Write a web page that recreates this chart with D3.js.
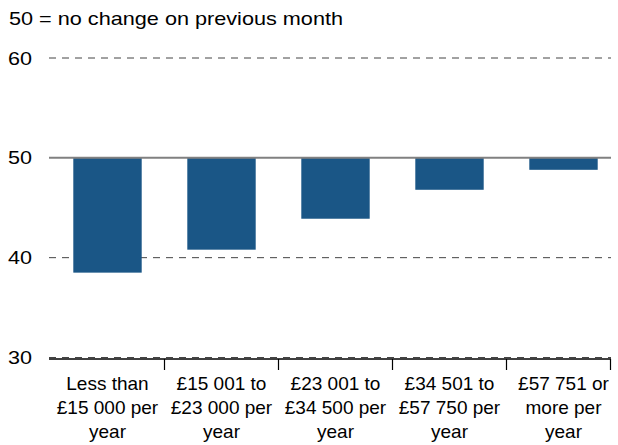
<!DOCTYPE html>
<html>
<head>
<meta charset="utf-8">
<script src="https://cdn.jsdelivr.net/npm/d3@7"></script>
<style>
  body { margin: 0; background: #fff; }
  text { font-family: "Liberation Sans", Arial, sans-serif; fill: #000; }
</style>
</head>
<body>
<svg id="chart"></svg>
<script>
var categories = [
    ["Less than", "£15 000 per", "year"],
    ["£15 001 to", "£23 000 per", "year"],
    ["£23 001 to", "£34 500 per", "year"],
    ["£34 501 to", "£57 750 per", "year"],
    ["£57 751 or", "more per", "year"]
]
var values = [38.5, 40.8, 43.9, 46.8, 48.8]
var yTicks = [30, 40, 50, 60]
var note = "50 = no change on previous month"

function main(){
    var svgWidth = 618, svgHeight = 445
    var left = 49, right = 611, top = 58, bottom = 357.5

    var svg = d3.select('#chart')
        .attr('width', svgWidth)
        .attr('height', svgHeight)

    var xScale = d3.scaleBand()
        .domain(d3.range(categories.length))
        .range([50.5, 620.5])
        .paddingInner(0.4)
        .paddingOuter(0.2)

    var yScale = d3.scaleLinear()
        .domain([30, 60])
        .range([bottom, top])

    // note at top
    svg.append("text")
        .attr("x", 9)
        .attr("y", 25)
        .attr("font-size", "19px")
        .attr("textLength", 334)
        .attr("lengthAdjust", "spacingAndGlyphs")
        .text(note)

    // dashed gridlines
    svg.selectAll("line.grid")
        .data(yTicks.filter(function(d){ return d != 50 }))
        .enter()
        .append("line")
        .attr("class", "grid")
        .attr("x1", left)
        .attr("x2", right)
        .attr("y1", function(d){ return yScale(d) })
        .attr("y2", function(d){ return yScale(d) })
        .attr("stroke", "#444")
        .attr("stroke-width", 1)
        .attr("stroke-dasharray", "7,6")

    // y labels
    svg.selectAll("text.ylab")
        .data(yTicks)
        .enter()
        .append("text")
        .attr("class", "ylab")
        .attr("x", 8)
        .attr("y", function(d){ return yScale(d) + 6.5 })
        .attr("font-size", "19px")
        .attr("textLength", 24)
        .attr("lengthAdjust", "spacingAndGlyphs")
        .text(function(d){ return d })

    // bars hanging from 50
    svg.selectAll("rect")
        .data(values)
        .enter()
        .append("rect")
        .attr("x", function(d, i){ return xScale(i) })
        .attr("width", xScale.bandwidth())
        .attr("y", yScale(50))
        .attr("height", function(d){ return yScale(d) - yScale(50) })
        .attr("fill", "#1a5686")

    // reference line at 50
    svg.append("line")
        .attr("x1", left)
        .attr("x2", right)
        .attr("y1", yScale(50))
        .attr("y2", yScale(50))
        .attr("stroke", "#808080")
        .attr("stroke-width", 2)

    // x axis just under 30
    var axisY = yScale(30) + 1.5
    svg.append("line")
        .attr("x1", left)
        .attr("x2", right)
        .attr("y1", axisY)
        .attr("y2", axisY)
        .attr("stroke", "#000")
        .attr("stroke-width", 1.5)

    var tickX = d3.range(1, categories.length).map(function(i){
        return xScale(i) - xScale.step() * xScale.paddingInner() / 2
    })
    tickX.push(right - 0.5)
    svg.selectAll("line.tick")
        .data(tickX)
        .enter()
        .append("line")
        .attr("class", "tick")
        .attr("x1", function(d){ return d })
        .attr("x2", function(d){ return d })
        .attr("y1", axisY)
        .attr("y2", axisY + 11)
        .attr("stroke", "#000")
        .attr("stroke-width", 1.2)

    // category labels
    var labels = svg.selectAll("text.xlab")
        .data(categories)
        .enter()
        .append("text")
        .attr("class", "xlab")
        .attr("text-anchor", "middle")
        .attr("font-size", "19px")
        .attr("x", function(d, i){ return xScale(i) + xScale.bandwidth() / 2 })
        .attr("y", 390)

    labels.selectAll("tspan")
        .data(function(d, i){ return d.map(function(t){ return { t: t, i: i } }) })
        .enter()
        .append("tspan")
        .attr("x", function(d){ return xScale(d.i) + xScale.bandwidth() / 2 })
        .attr("dy", function(d, j){ return j == 0 ? 0 : 23.8 })
        .text(function(d){ return d.t })
}
main()
</script>
</body>
</html>
